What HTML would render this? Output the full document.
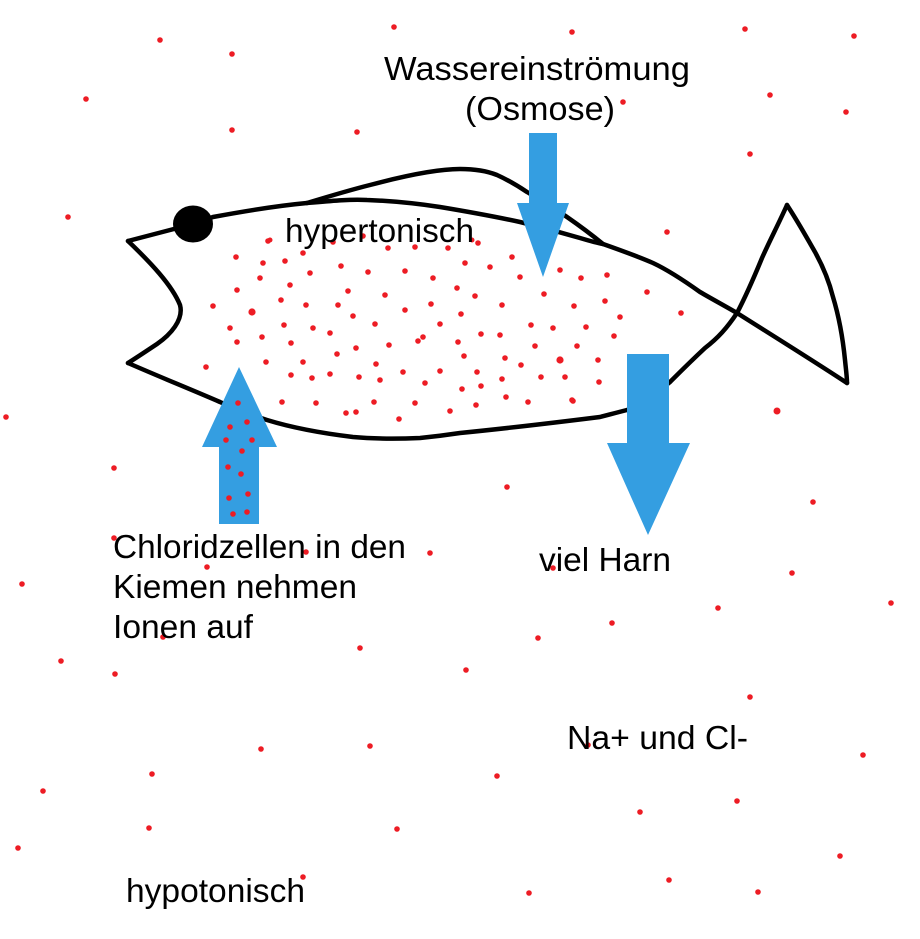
<!DOCTYPE html>
<html>
<head>
<meta charset="utf-8">
<style>
  html, body { margin: 0; padding: 0; background: #ffffff; }
  body { width: 920px; height: 939px; overflow: hidden; }
  svg { display: block; }
  text { font-family: "Liberation Sans", Arial, sans-serif; font-size: 33px; fill: #000; }
</style>
</head>
<body>
<svg width="920" height="939" viewBox="0 0 920 939" xmlns="http://www.w3.org/2000/svg">
  <rect width="920" height="939" fill="#ffffff"/>

  <!-- Fish outline -->
  <g fill="none" stroke="#000" stroke-width="4.5" stroke-linejoin="round" stroke-linecap="round">
    <!-- mouth -->
    <path d="M128,241 C150,262 172,285 180,305 C184,320 170,335 157,344 C145,352 136,358 128,363"/>
    <!-- upper jaw to eye and top of body -->
    <path d="M128,241 L193,224 L213,217 C245,211 275,206 307,203 C330,201 350,199 367,200 C395,201 420,204 440,207 C470,212 497,217 520,222 C545,228 563,233 580,238 C590,241 597,243 603,244 C620,250 637,256 653,263 C670,271 686,282 700,292 C712,299 725,306 737,313 C775,337 812,360 847,383"/>
    <!-- dorsal fin -->
    <path d="M307,203 C330,196 350,190 370,185 C400,177 435,169 460,169 C475,169 487,171 497,175 C508,180 518,186 527,192 C542,201 556,209 567,217 C580,226 592,235 603,244"/>
    <!-- tail right edge -->
    <path d="M787,205 C800,225 808,240 815,252 C825,270 830,285 833,297 C840,320 843,340 845,360 C846,370 847,377 847,383"/>
    <!-- tail left edge into lower body -->
    <path d="M787,205 C778,225 770,240 762,258 C755,275 748,292 737,313 C727,328 718,338 705,348 C690,362 680,372 670,382 C657,393 643,403 627,410 C615,413 608,415 600,417 C560,422 510,428 460,433 C440,436 430,437 420,438 C395,439 375,439 353,437 C320,433 293,428 267,420 C248,414 233,408 220,402 C190,389 160,377 128,363"/>
  </g>
  <!-- eye -->
  <ellipse cx="193" cy="224" rx="20" ry="18.5" fill="#000"/>

  <!-- Blue arrows -->
  <g fill="#349ee1">
    <!-- top arrow (Osmose) -->
    <polygon points="529,133 557,133 557,203 569,203 543,277 517,203 529,203"/>
    <!-- right arrow (viel Harn) -->
    <polygon points="627,354 669,354 669,443 690,443 648,535 607,443 627,443"/>
    <!-- left up arrow (Chloridzellen) -->
    <polygon points="239,367 277,447 259,447 259,524 219,524 219,447 202,447"/>
  </g>

  <!-- Red dots -->
  <g fill="#ed1c24">
    <!-- outside -->
    <circle cx="160" cy="40" r="2.8"/><circle cx="232" cy="54" r="2.8"/><circle cx="394" cy="27" r="2.8"/>
    <circle cx="86" cy="99" r="2.8"/><circle cx="232" cy="130" r="2.8"/><circle cx="357" cy="132" r="2.8"/>
    <circle cx="68" cy="217" r="2.8"/><circle cx="572" cy="32" r="2.8"/><circle cx="745" cy="29" r="2.8"/>
    <circle cx="854" cy="36" r="2.8"/><circle cx="623" cy="102" r="2.8"/><circle cx="770" cy="95" r="2.8"/>
    <circle cx="846" cy="112" r="2.8"/><circle cx="750" cy="154" r="2.8"/><circle cx="667" cy="232" r="2.8"/>
    <circle cx="6" cy="417" r="2.8"/><circle cx="114" cy="468" r="2.8"/><circle cx="114" cy="538" r="2.8"/>
    <circle cx="207" cy="567" r="2.8"/><circle cx="306" cy="552" r="2.8"/><circle cx="430" cy="553" r="2.8"/>
    <circle cx="22" cy="584" r="2.8"/><circle cx="163" cy="637" r="2.8"/><circle cx="360" cy="648" r="2.8"/>
    <circle cx="61" cy="661" r="2.8"/><circle cx="115" cy="674" r="2.8"/><circle cx="507" cy="487" r="2.8"/>
    <circle cx="813" cy="502" r="2.8"/><circle cx="792" cy="573" r="2.8"/><circle cx="553" cy="568" r="2.8"/>
    <circle cx="891" cy="603" r="2.8"/><circle cx="718" cy="608" r="2.8"/><circle cx="612" cy="623" r="2.8"/>
    <circle cx="538" cy="638" r="2.8"/><circle cx="466" cy="670" r="2.8"/><circle cx="777" cy="411" r="3.5"/>
    <circle cx="261" cy="749" r="2.8"/><circle cx="370" cy="746" r="2.8"/><circle cx="152" cy="774" r="2.8"/>
    <circle cx="43" cy="791" r="2.8"/><circle cx="149" cy="828" r="2.8"/><circle cx="397" cy="829" r="2.8"/>
    <circle cx="18" cy="848" r="2.8"/><circle cx="303" cy="877" r="2.8"/><circle cx="750" cy="697" r="2.8"/>
    <circle cx="588" cy="745" r="2.8"/><circle cx="863" cy="755" r="2.8"/><circle cx="497" cy="776" r="2.8"/>
    <circle cx="737" cy="801" r="2.8"/><circle cx="640" cy="812" r="2.8"/><circle cx="840" cy="856" r="2.8"/>
    <circle cx="669" cy="880" r="2.8"/><circle cx="758" cy="892" r="2.8"/><circle cx="529" cy="893" r="2.8"/>
    <circle cx="681" cy="313" r="2.8"/><circle cx="647" cy="292" r="2.8"/>
    <!-- inside fish (left part) -->
    <circle cx="268" cy="241" r="2.8"/><circle cx="236" cy="257" r="2.8"/><circle cx="263" cy="263" r="2.8"/>
    <circle cx="285" cy="261" r="2.8"/><circle cx="303" cy="253" r="2.8"/><circle cx="310" cy="273" r="2.8"/>
    <circle cx="341" cy="266" r="2.8"/><circle cx="368" cy="272" r="2.8"/><circle cx="405" cy="271" r="2.8"/>
    <circle cx="388" cy="248" r="2.8"/><circle cx="415" cy="247" r="2.8"/><circle cx="333" cy="242" r="2.8"/>
    <circle cx="363" cy="236" r="2.8"/><circle cx="260" cy="278" r="2.8"/><circle cx="237" cy="290" r="2.8"/>
    <circle cx="290" cy="285" r="2.8"/><circle cx="348" cy="291" r="2.8"/><circle cx="385" cy="295" r="2.8"/>
    <circle cx="213" cy="306" r="2.8"/><circle cx="252" cy="312" r="3.6"/><circle cx="281" cy="300" r="2.8"/>
    <circle cx="306" cy="305" r="2.8"/><circle cx="338" cy="305" r="2.8"/><circle cx="353" cy="316" r="2.8"/>
    <circle cx="405" cy="310" r="2.8"/><circle cx="230" cy="328" r="2.8"/><circle cx="284" cy="325" r="2.8"/>
    <circle cx="313" cy="328" r="2.8"/><circle cx="330" cy="333" r="2.8"/><circle cx="375" cy="324" r="2.8"/>
    <circle cx="237" cy="342" r="2.8"/><circle cx="262" cy="337" r="2.8"/><circle cx="291" cy="343" r="2.8"/>
    <circle cx="337" cy="354" r="2.8"/><circle cx="356" cy="348" r="2.8"/><circle cx="389" cy="345" r="2.8"/>
    <circle cx="418" cy="341" r="2.8"/><circle cx="206" cy="367" r="2.8"/><circle cx="266" cy="362" r="2.8"/>
    <circle cx="303" cy="362" r="2.8"/><circle cx="376" cy="364" r="2.8"/><circle cx="291" cy="375" r="2.8"/>
    <circle cx="312" cy="378" r="2.8"/><circle cx="330" cy="374" r="2.8"/><circle cx="359" cy="377" r="2.8"/>
    <circle cx="380" cy="380" r="2.8"/><circle cx="403" cy="372" r="2.8"/><circle cx="282" cy="402" r="2.8"/>
    <circle cx="316" cy="403" r="2.8"/><circle cx="346" cy="413" r="2.8"/><circle cx="356" cy="412" r="2.8"/>
    <circle cx="374" cy="402" r="2.8"/><circle cx="399" cy="419" r="2.8"/><circle cx="415" cy="403" r="2.8"/>
    <circle cx="270" cy="240" r="2.5"/><circle cx="472" cy="240" r="2.5"/>
    <!-- inside arrow -->
    <circle cx="238" cy="403" r="2.8"/><circle cx="230" cy="427" r="2.8"/><circle cx="247" cy="422" r="2.8"/>
    <circle cx="226" cy="440" r="2.8"/><circle cx="252" cy="440" r="2.8"/><circle cx="242" cy="451" r="2.8"/>
    <circle cx="228" cy="467" r="2.8"/><circle cx="241" cy="474" r="2.8"/><circle cx="229" cy="498" r="2.8"/>
    <circle cx="248" cy="494" r="2.8"/><circle cx="233" cy="514" r="2.8"/><circle cx="247" cy="512" r="2.8"/>
    <!-- inside fish (right part) -->
    <circle cx="448" cy="248" r="2.8"/><circle cx="478" cy="243" r="2.8"/><circle cx="433" cy="278" r="2.8"/>
    <circle cx="465" cy="263" r="2.8"/><circle cx="490" cy="267" r="2.8"/><circle cx="512" cy="257" r="2.8"/>
    <circle cx="520" cy="277" r="2.8"/><circle cx="560" cy="270" r="2.8"/><circle cx="581" cy="278" r="2.8"/>
    <circle cx="607" cy="275" r="2.8"/><circle cx="457" cy="288" r="2.8"/><circle cx="475" cy="296" r="2.8"/>
    <circle cx="544" cy="294" r="2.8"/><circle cx="431" cy="304" r="2.8"/><circle cx="461" cy="314" r="2.8"/>
    <circle cx="502" cy="305" r="2.8"/><circle cx="574" cy="306" r="2.8"/><circle cx="605" cy="301" r="2.8"/>
    <circle cx="620" cy="317" r="2.8"/><circle cx="440" cy="324" r="2.8"/><circle cx="531" cy="325" r="2.8"/>
    <circle cx="553" cy="328" r="2.8"/><circle cx="586" cy="327" r="2.8"/><circle cx="423" cy="337" r="2.8"/>
    <circle cx="458" cy="342" r="2.8"/><circle cx="481" cy="334" r="2.8"/><circle cx="500" cy="335" r="2.8"/>
    <circle cx="535" cy="346" r="2.8"/><circle cx="577" cy="346" r="2.8"/><circle cx="614" cy="336" r="2.8"/>
    <circle cx="464" cy="356" r="2.8"/><circle cx="505" cy="358" r="2.8"/><circle cx="521" cy="365" r="2.8"/>
    <circle cx="560" cy="360" r="3.6"/><circle cx="598" cy="360" r="2.8"/><circle cx="440" cy="371" r="2.8"/>
    <circle cx="477" cy="372" r="2.8"/><circle cx="425" cy="383" r="2.8"/><circle cx="462" cy="389" r="2.8"/>
    <circle cx="481" cy="386" r="2.8"/><circle cx="502" cy="379" r="2.8"/><circle cx="541" cy="377" r="2.8"/>
    <circle cx="565" cy="377" r="2.8"/><circle cx="599" cy="382" r="2.8"/><circle cx="450" cy="411" r="2.8"/>
    <circle cx="476" cy="405" r="2.8"/><circle cx="506" cy="397" r="2.8"/><circle cx="528" cy="402" r="2.8"/>
    <circle cx="572" cy="400" r="2.8"/><circle cx="573" cy="401" r="2.8"/>
  </g>

  <!-- Labels -->
  <text x="384" y="80" textLength="306" lengthAdjust="spacingAndGlyphs">Wassereinströmung</text>
  <text x="465" y="120" textLength="150" lengthAdjust="spacingAndGlyphs">(Osmose)</text>
  <text x="285" y="242" textLength="189" lengthAdjust="spacingAndGlyphs">hypertonisch</text>
  <text x="113" y="558" textLength="293" lengthAdjust="spacingAndGlyphs">Chloridzellen in den</text>
  <text x="113" y="598" textLength="244" lengthAdjust="spacingAndGlyphs">Kiemen nehmen</text>
  <text x="113" y="638" textLength="140" lengthAdjust="spacingAndGlyphs">Ionen auf</text>
  <text x="539" y="571" textLength="132" lengthAdjust="spacingAndGlyphs">viel Harn</text>
  <text x="567" y="749" textLength="181" lengthAdjust="spacingAndGlyphs">Na+ und Cl-</text>
  <text x="126" y="902" textLength="179" lengthAdjust="spacingAndGlyphs">hypotonisch</text>
</svg>
</body>
</html>
